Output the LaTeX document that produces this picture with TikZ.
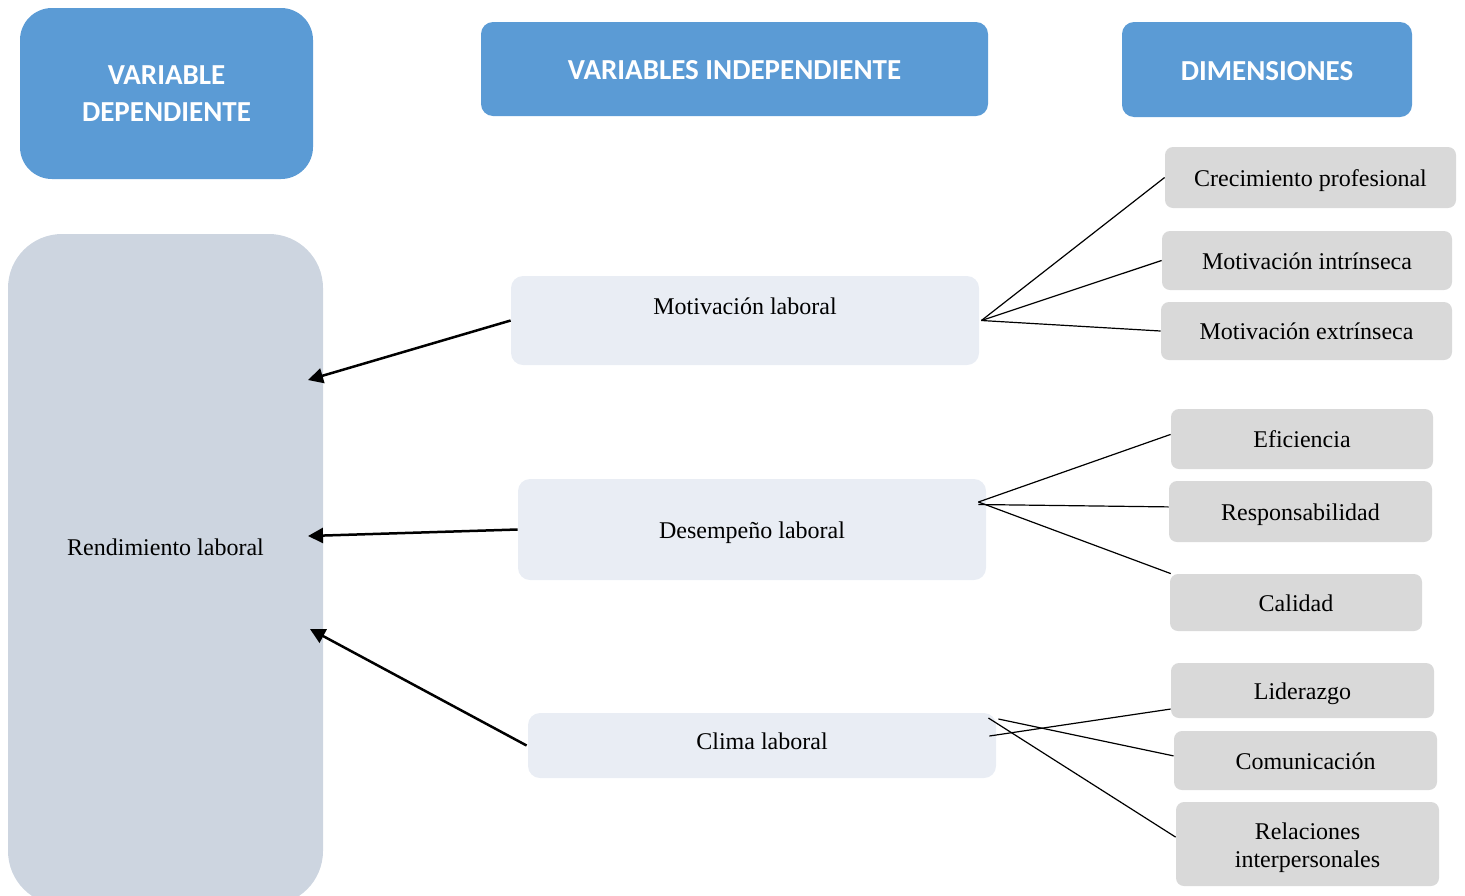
\documentclass[tikz,border=0pt]{standalone}
\usepackage{fontspec}
\setmainfont{Liberation Serif}
\newfontfamily\headfont{Carlito}
\usepackage{tikz}
\usetikzlibrary{positioning,arrows.meta,calc}

\definecolor{headblue}{HTML}{5B9BD5}
\definecolor{depgray}{HTML}{CDD5E0}
\definecolor{indepgray}{HTML}{E9EDF4}
\definecolor{dimgray}{HTML}{D9D9D9}

\begin{document}
\begin{tikzpicture}[
  x=0.5pt, y=-0.5pt,
  head/.style={fill=headblue, rounded corners=6pt, text=white, align=center,
    font=\headfont\bfseries\fontsize{14.5}{18.5}\selectfont, inner sep=0pt},
  indep/.style={fill=indepgray, rounded corners=6pt, align=center,
    font=\fontsize{12}{14}\selectfont, inner sep=0pt, minimum width=234pt,
    text height=11.5pt, text depth=2.6pt},
  dim/.style={fill=dimgray, rounded corners=4pt, align=center,
    font=\fontsize{12}{14}\selectfont, inner sep=0pt},
  arr/.style={-{Triangle[length=7.5pt,width=7.5pt]}, line width=1.25pt},
  lnk/.style={line width=0.6pt}
]
\useasboundingbox (0,0) rectangle (1465,895);

\node[head, rounded corners=16pt, minimum width=146.5pt, minimum height=85.5pt] (hdep) at (166.5,93.5) {VARIABLE\\DEPENDIENTE};
\node[head, minimum width=253.5pt, minimum height=47pt, text height=11pt] (hind) at (734.5,69) {VARIABLES INDEPENDIENTE};
\node[head, minimum width=145pt, minimum height=47.5pt, text height=10.6pt] (hdim) at (1267,69.5) {DIMENSIONES};

\node[fill=depgray, rounded corners=27pt, minimum width=157.5pt, minimum height=335.5pt,
  font=\fontsize{12}{14}\selectfont, text depth=22pt, inner sep=0pt] (rend) at (165.5,569.5) {Rendimiento laboral};

\node[indep, minimum height=44.5pt, text depth=17.8pt] (mot) at (745,320.5) {Motivación laboral};
\node[indep, minimum height=50.5pt] (des) at (752,529.5) {Desempeño laboral};
\node[indep, minimum height=32.5pt, text depth=7.8pt] (cli) at (762,745.5) {Clima laboral};

\node[dim, minimum width=145.5pt, minimum height=30.5pt, text height=11.3pt, text depth=2.6pt] (cre) at (1310.5,177.5) {Crecimiento profesional};
\node[dim, minimum width=145pt, minimum height=29.5pt, text height=11.3pt, text depth=2.6pt] (intr) at (1307,260.5) {Motivación intrínseca};
\node[dim, minimum width=145.5pt, minimum height=29pt, text height=11.3pt, text depth=2.6pt] (extr) at (1306.5,331) {Motivación extrínseca};
\node[dim, minimum width=131pt, minimum height=30pt, text height=11.3pt, text depth=2.6pt] (efi) at (1302,439) {Eficiencia};
\node[dim, minimum width=131.5pt, minimum height=30.5pt, text height=11.3pt, text depth=2.6pt] (resp) at (1300.5,511.5) {Responsabilidad};
\node[dim, minimum width=126pt, minimum height=28.5pt, text height=11.3pt, text depth=2.6pt] (cal) at (1296,602.5) {Calidad};
\node[dim, minimum width=131.5pt, minimum height=27.5pt, text height=11.3pt, text depth=2.6pt] (lid) at (1302.5,690.5) {Liderazgo};
\node[dim, minimum width=131.5pt, minimum height=29.5pt, text height=11.3pt, text depth=2.6pt] (com) at (1305.5,760.5) {Comunicación};
\node[dim, minimum width=131.5pt, minimum height=42pt, text height=26.5pt, text depth=2.6pt] (rel) at (1307.5,844) {Relaciones\\interpersonales};

\coordinate (r1) at (308,380);
\coordinate (r2) at (308,536);
\coordinate (r3) at (310,629);

\draw[arr] (mot.west) -- (r1);
\draw[arr] (des.west) -- (r2);
\draw[arr] ($(cli.west)+(-1,0)$) -- (r3);

\draw[lnk] ($(mot.east)+(2,0)$) -- (cre.west);
\draw[lnk] ($(mot.east)+(2,0)$) -- (intr.west);
\draw[lnk] ($(mot.east)+(2,0)$) -- (extr.west);

\draw[lnk] ($(des.east)+(-8,-27.5)$) -- (efi.178);
\draw[lnk] ($(des.east)+(-8,-25)$) -- (resp.178);
\draw[lnk] ($(des.east)+(-8,-27.5)$) -- (cal.167);

\draw[lnk] ($(cli.east)+(-7,-9.5)$) -- (lid.188);
\draw[lnk] ($(cli.east)+(2,-26.5)$) -- (com.178);
\draw[lnk] ($(cli.east)+(-8,-27.5)$) -- (rel.177);
\end{tikzpicture}
\end{document}
